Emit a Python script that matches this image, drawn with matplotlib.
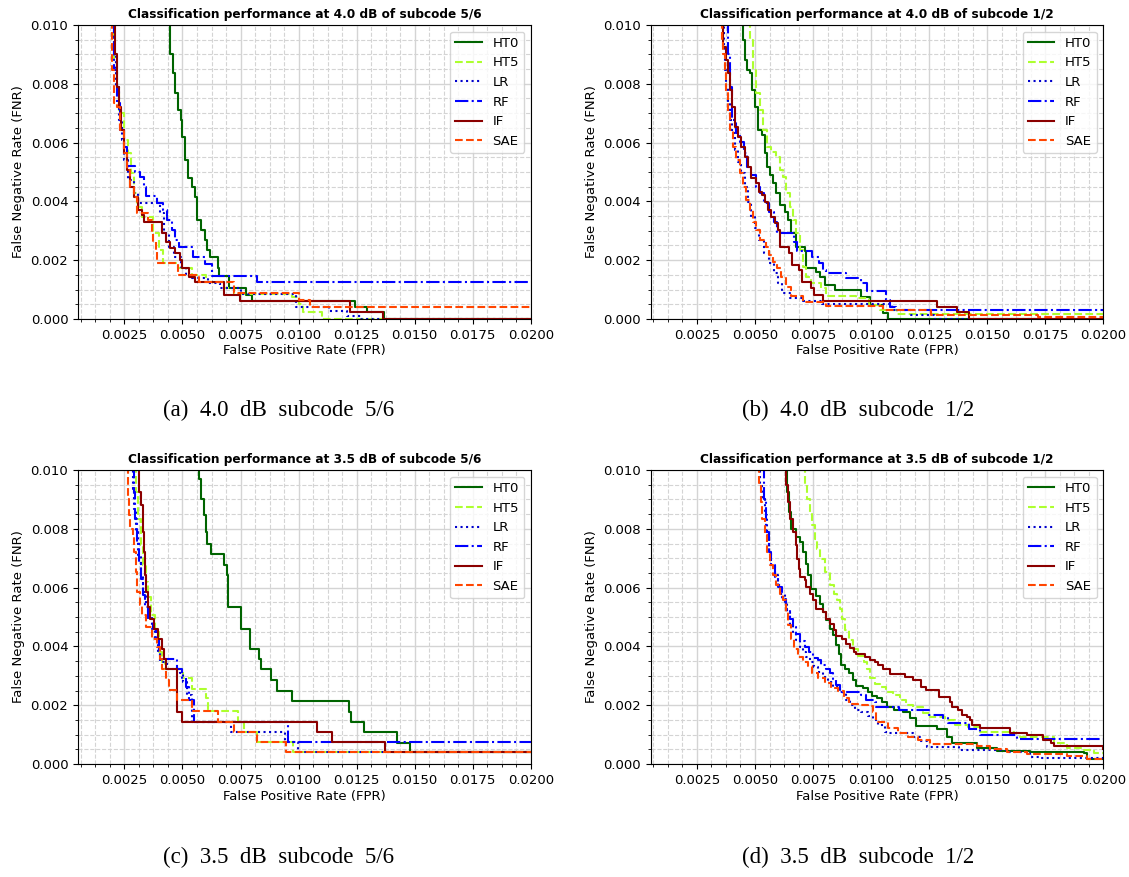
import matplotlib
matplotlib.use("Agg")
import matplotlib.pyplot as plt
from matplotlib.ticker import MultipleLocator, AutoMinorLocator

# ---------------- data (FPR, FNR) step vertices ----------------
LABELS = ["HT0", "HT5", "LR", "RF", "IF", "SAE"]
TITLES = ["Classification performance at 4.0 dB of subcode 5/6",
          "Classification performance at 4.0 dB of subcode 1/2",
          "Classification performance at 3.5 dB of subcode 5/6",
          "Classification performance at 3.5 dB of subcode 1/2"]
CAPTIONS = ["(a)  4.0  dB  subcode  5/6", "(b)  4.0  dB  subcode  1/2",
            "(c)  3.5  dB  subcode  5/6", "(d)  3.5  dB  subcode  1/2"]

# Panel (a)
A_HT0 = [(0.00437,0.0101),(0.00447,0.00903),(0.00457,0.00835),(0.00468,0.00767),(0.0048,0.0071),(0.00494,0.00676),(0.005,0.0062),(0.00509,0.0054),(0.00523,0.00478),(0.00543,0.0045),(0.00552,0.00416),(0.00562,0.00336),(0.00581,0.00302),(0.00598,0.00269),(0.00605,0.00235),(0.00619,0.0021),(0.00652,0.00172),(0.00658,0.00147),(0.00701,0.00104),(0.00773,0.00082),(0.00799,0.00062),(0.01245,0.0004),(0.01295,0.00023),(0.0137,0.0),(0.02,0.0)]
A_HT5 = [(0.00198,0.0101),(0.00207,0.0088),(0.00217,0.0079),(0.00227,0.00699),(0.00246,0.00608),(0.00267,0.00563),(0.00279,0.00495),(0.00293,0.00427),(0.00303,0.00382),(0.00325,0.00348),(0.00375,0.00291),(0.00397,0.00235),(0.00418,0.00189),(0.0048,0.00172),(0.0054,0.0015),(0.006,0.00125),(0.0068,0.00105),(0.0072,0.00085),(0.0097,0.00076),(0.01,0.00052),(0.0102,0.00023),(0.011,0.0),(0.02,0.0)]
A_LR = [(0.00193,0.0101),(0.00203,0.00903),(0.00213,0.0079),(0.00227,0.00676),(0.00239,0.00608),(0.0025,0.0054),(0.00267,0.00472),(0.00293,0.00427),(0.0031,0.00395),(0.00404,0.00359),(0.00422,0.00291),(0.00442,0.00246),(0.00462,0.00212),(0.00494,0.00178),(0.00514,0.0015),(0.0054,0.00138),(0.00612,0.00121),(0.0066,0.00105),(0.0075,0.00085),(0.0099,0.00042),(0.0113,0.00027),(0.0121,0.0001),(0.0127,0.0),(0.02,0.0)]
A_RF = [(0.00195,0.0101),(0.00207,0.00846),(0.00217,0.00733),(0.00231,0.00642),(0.00246,0.00586),(0.0026,0.0052),(0.00296,0.005),(0.00318,0.00484),(0.00336,0.0045),(0.00342,0.00418),(0.00389,0.00395),(0.00417,0.0037),(0.00432,0.00336),(0.00454,0.00302),(0.00468,0.00269),(0.00483,0.00246),(0.00547,0.0021),(0.00598,0.00187),(0.00626,0.00146),(0.0082,0.00125),(0.02,0.00125)]
A_IF = [(0.00203,0.0101),(0.0021,0.00903),(0.00217,0.0079),(0.00227,0.00722),(0.00236,0.00642),(0.00246,0.00563),(0.0026,0.00506),(0.00274,0.0045),(0.00289,0.00416),(0.0031,0.0037),(0.00325,0.00353),(0.00333,0.00331),(0.00411,0.00291),(0.00428,0.00263),(0.00447,0.0024),(0.00468,0.00223),(0.0049,0.002),(0.005,0.00172),(0.00529,0.00144),(0.00555,0.00127),(0.00677,0.00082),(0.00749,0.00062),(0.01223,0.00023),(0.01364,0.0),(0.02,0.0)]
A_SAE = [(0.00193,0.0101),(0.00198,0.00846),(0.00207,0.00733),(0.00217,0.00722),(0.00231,0.00642),(0.0025,0.00563),(0.0026,0.00506),(0.00274,0.0045),(0.00293,0.00416),(0.00303,0.00359),(0.00353,0.00336),(0.00368,0.00291),(0.00375,0.00263),(0.00385,0.00235),(0.0039,0.0019),(0.0048,0.0015),(0.0057,0.00125),(0.0072,0.00088),(0.01,0.00063),(0.0105,0.00042),(0.02,0.00042)]

# Panel (b)
B_HT0 = [(0.00434,0.0101),(0.00448,0.00948),(0.00455,0.0088),(0.00466,0.00846),(0.0048,0.00835),(0.00487,0.00778),(0.00499,0.00722),(0.00513,0.00642),(0.00532,0.00625),(0.00542,0.00563),(0.00552,0.00518),(0.00563,0.00489),(0.00578,0.00461),(0.00592,0.00427),(0.00606,0.00387),(0.00628,0.00365),(0.00642,0.00336),(0.00657,0.00291),(0.00678,0.00246),(0.00714,0.00232),(0.00721,0.00172),(0.00764,0.00161),(0.00779,0.00144),(0.008,0.00116),(0.00846,0.00099),(0.00958,0.00076),(0.00994,0.00048),(0.01052,0.00019),(0.01073,0.0),(0.02,0.0)]
B_HT5 = [(0.0047,0.0101),(0.00477,0.00948),(0.00491,0.00846),(0.00506,0.00767),(0.0052,0.0071),(0.00534,0.00642),(0.00552,0.00586),(0.0057,0.00569),(0.00589,0.00552),(0.00606,0.00506),(0.00621,0.00484),(0.00635,0.00427),(0.0065,0.00382),(0.00664,0.00336),(0.00678,0.00291),(0.00693,0.00235),(0.00707,0.00178),(0.00721,0.00144),(0.00743,0.00121),(0.00786,0.00104),(0.00807,0.00078),(0.00937,0.0007),(0.0099,0.00048),(0.0104,0.0003),(0.0111,0.00017),(0.02,0.00017)]
B_LR = [(0.00362,0.0101),(0.00365,0.00926),(0.00369,0.00846),(0.00376,0.0079),(0.00384,0.00733),(0.00391,0.00676),(0.00402,0.00631),(0.00412,0.00574),(0.00427,0.00535),(0.00441,0.00495),(0.00455,0.0045),(0.0047,0.00399),(0.00484,0.00348),(0.00499,0.00308),(0.00517,0.00269),(0.00537,0.00223),(0.0056,0.00189),(0.00581,0.00155),(0.00599,0.00121),(0.00618,0.00087),(0.0065,0.0007),(0.00707,0.00062),(0.0079,0.00052),(0.0109,0.0003),(0.0117,0.00015),(0.0127,0.0),(0.02,0.0)]
B_RF = [(0.00376,0.0101),(0.00384,0.00903),(0.00394,0.0079),(0.00402,0.00676),(0.0042,0.00631),(0.00437,0.00603),(0.00451,0.00563),(0.00466,0.00518),(0.00484,0.00489),(0.00506,0.0045),(0.00523,0.00427),(0.00537,0.00393),(0.0056,0.00365),(0.0058,0.00331),(0.00594,0.00291),(0.00667,0.00263),(0.00681,0.00232),(0.00747,0.00212),(0.00776,0.00189),(0.00793,0.00167),(0.00807,0.00155),(0.00894,0.00138),(0.00958,0.00121),(0.00983,0.00096),(0.01063,0.00065),(0.0108,0.00042),(0.01109,0.00031),(0.02,0.00031)]
B_IF = [(0.00355,0.0101),(0.00362,0.00926),(0.00374,0.0088),(0.00384,0.00835),(0.00394,0.00778),(0.00402,0.00722),(0.00412,0.00654),(0.00427,0.0062),(0.00441,0.00586),(0.00455,0.00552),(0.0047,0.00518),(0.00484,0.00478),(0.00506,0.00461),(0.00517,0.00433),(0.00532,0.00421),(0.00542,0.00399),(0.00556,0.0037),(0.0057,0.00348),(0.00585,0.00325),(0.00599,0.00302),(0.00606,0.00246),(0.00647,0.00223),(0.00661,0.00184),(0.0069,0.00167),(0.00701,0.00127),(0.00743,0.00104),(0.00753,0.00082),(0.00793,0.00062),(0.01282,0.00042),(0.01368,0.00022),(0.01422,0.0),(0.02,0.0)]
B_SAE = [(0.00355,0.0101),(0.00358,0.00948),(0.00362,0.00903),(0.00369,0.00835),(0.00376,0.00767),(0.00384,0.00699),(0.00394,0.00642),(0.00405,0.00586),(0.00417,0.0054),(0.00434,0.00495),(0.00448,0.0045),(0.00463,0.00404),(0.00477,0.0037),(0.00491,0.00331),(0.00506,0.00302),(0.00523,0.00269),(0.00546,0.00244),(0.0056,0.00218),(0.00578,0.00195),(0.00595,0.00172),(0.00614,0.00144),(0.00635,0.0011),(0.00657,0.00078),(0.00707,0.00059),(0.00807,0.00044),(0.01052,0.00031),(0.0126,0.00015),(0.0172,0.00008),(0.02,0.00008)]

# Panel (c)
C_HT0 = [(0.00555,0.0101),(0.00572,0.00971),(0.0058,0.00903),(0.00591,0.00846),(0.00601,0.0079),(0.00605,0.00747),(0.00624,0.00713),(0.00677,0.00676),(0.00691,0.00642),(0.00695,0.00535),(0.00751,0.00461),(0.00792,0.00393),(0.00828,0.00359),(0.00839,0.00325),(0.00882,0.00286),(0.00907,0.00248),(0.00971,0.00215),(0.01218,0.00178),(0.01227,0.00144),(0.0128,0.00108),(0.01424,0.00073),(0.01478,0.0004),(0.02,0.0004)]
C_HT5 = [(0.00289,0.0101),(0.00299,0.00926),(0.0031,0.00835),(0.0032,0.00744),(0.00332,0.00676),(0.00342,0.0062),(0.00353,0.00569),(0.00365,0.00506),(0.00382,0.0045),(0.00397,0.00382),(0.00411,0.00348),(0.00425,0.00323),(0.00504,0.00291),(0.0054,0.00255),(0.00601,0.00223),(0.00609,0.00181),(0.00741,0.00144),(0.00763,0.0011),(0.00823,0.00074),(0.00978,0.0004),(0.02,0.0004)]
C_LR = [(0.00279,0.0101),(0.00286,0.00937),(0.00293,0.00869),(0.003,0.0079),(0.0031,0.0071),(0.0032,0.00642),(0.00332,0.00586),(0.00342,0.0054),(0.00353,0.00501),(0.00368,0.00461),(0.00382,0.00427),(0.00394,0.00382),(0.00404,0.00348),(0.00432,0.00325),(0.0049,0.00308),(0.00504,0.0028),(0.00519,0.00235),(0.0054,0.00144),(0.0071,0.0011),(0.00943,0.00074),(0.00996,0.0004),(0.02,0.0004)]
C_RF = [(0.00282,0.0101),(0.0029,0.00926),(0.00297,0.00835),(0.00305,0.00756),(0.00312,0.00688),(0.0032,0.00631),(0.00329,0.00574),(0.00339,0.00535),(0.00353,0.00495),(0.00371,0.00461),(0.00385,0.00427),(0.00397,0.00387),(0.00404,0.00357),(0.00476,0.00323),(0.005,0.00291),(0.00514,0.00263),(0.00526,0.00218),(0.0055,0.00144),(0.00953,0.00074),(0.02,0.00074)]
C_IF = [(0.00307,0.0101),(0.00313,0.00926),(0.00322,0.0088),(0.00329,0.0079),(0.00335,0.00722),(0.00339,0.00642),(0.00343,0.00586),(0.00351,0.00535),(0.00361,0.00495),(0.00379,0.00461),(0.00394,0.00427),(0.00411,0.00393),(0.00421,0.00359),(0.00428,0.00323),(0.00476,0.00178),(0.005,0.00144),(0.01079,0.0011),(0.01144,0.00074),(0.01374,0.0004),(0.02,0.0004)]
C_SAE = [(0.0026,0.0101),(0.00264,0.00903),(0.0027,0.00846),(0.00274,0.00801),(0.00286,0.00778),(0.00292,0.00722),(0.00299,0.00654),(0.00306,0.00586),(0.00315,0.0054),(0.00325,0.00506),(0.00342,0.00467),(0.00368,0.00427),(0.00389,0.00399),(0.00404,0.00359),(0.00411,0.00325),(0.00428,0.00286),(0.0044,0.00252),(0.00476,0.00218),(0.0054,0.0018),(0.00655,0.00144),(0.0072,0.0011),(0.0082,0.00074),(0.00945,0.0004),(0.02,0.0004)]

# Panel (d)
D_HT0 = [(0.00632,0.0101),(0.00638,0.00926),(0.00647,0.00858),(0.00657,0.00801),(0.00675,0.00773),(0.00693,0.00756),(0.00707,0.00722),(0.00718,0.00682),(0.00728,0.00642),(0.00743,0.00597),(0.00762,0.00572),(0.00779,0.00546),(0.00793,0.00518),(0.00807,0.00489),(0.00822,0.00461),(0.00836,0.00438),(0.00851,0.00404),(0.00861,0.00376),(0.00872,0.00336),(0.00887,0.00323),(0.00905,0.00308),(0.0092,0.00286),(0.00934,0.00266),(0.00966,0.00259),(0.00987,0.00246),(0.01006,0.00232),(0.01026,0.00223),(0.01045,0.0021),(0.01069,0.00193),(0.01098,0.00184),(0.01138,0.00176),(0.01167,0.00155),(0.01195,0.0013),(0.01285,0.00118),(0.01325,0.00093),(0.01347,0.00073),(0.01455,0.00056),(0.01542,0.00045),(0.01686,0.00042),(0.01918,0.00036),(0.01932,0.00018),(0.02,0.00018)]
D_HT5 = [(0.00707,0.0101),(0.00714,0.00948),(0.00724,0.00903),(0.00736,0.00858),(0.00747,0.00812),(0.00757,0.00767),(0.00767,0.00733),(0.00782,0.00699),(0.008,0.00654),(0.00822,0.00608),(0.00839,0.0058),(0.00853,0.00557),(0.00865,0.00529),(0.00876,0.00495),(0.00889,0.00455),(0.00905,0.00421),(0.00922,0.00393),(0.00944,0.00368),(0.00968,0.00346),(0.00983,0.00323),(0.00997,0.00291),(0.01016,0.00271),(0.01037,0.00262),(0.01066,0.00245),(0.01095,0.00234),(0.01124,0.00218),(0.01152,0.002),(0.01181,0.00193),(0.01224,0.00172),(0.01253,0.00159),(0.01318,0.0015),(0.01361,0.00133),(0.01419,0.00127),(0.0147,0.0011),(0.01614,0.00104),(0.01643,0.00093),(0.01788,0.0007),(0.01845,0.00053),(0.01918,0.00048),(0.01961,0.00039),(0.02,0.00039)]
D_LR = [(0.00513,0.0101),(0.0052,0.00948),(0.00532,0.00903),(0.00542,0.00846),(0.00552,0.00778),(0.0056,0.00722),(0.0057,0.00676),(0.00585,0.00642),(0.00599,0.00608),(0.00614,0.0058),(0.00628,0.00552),(0.00638,0.00518),(0.0065,0.00472),(0.00664,0.00444),(0.00678,0.00421),(0.00693,0.00399),(0.00707,0.00382),(0.00721,0.00365),(0.00736,0.00348),(0.00753,0.00331),(0.00772,0.00314),(0.00793,0.00297),(0.00815,0.0028),(0.00836,0.00263),(0.00865,0.00246),(0.00894,0.00218),(0.00908,0.00201),(0.0093,0.00184),(0.00958,0.00176),(0.00987,0.00164),(0.01009,0.0015),(0.0103,0.00133),(0.01059,0.0011),(0.01072,0.00104),(0.0118,0.00093),(0.0121,0.0008),(0.0124,0.00059),(0.0138,0.00048),(0.0159,0.00042),(0.01686,0.00025),(0.0173,0.00019),(0.02,0.00019)]
D_RF = [(0.00532,0.0101),(0.00537,0.00903),(0.00549,0.0079),(0.0056,0.00722),(0.0057,0.00676),(0.00585,0.00637),(0.00599,0.00603),(0.00618,0.00563),(0.00635,0.00529),(0.0065,0.00495),(0.00664,0.00467),(0.00678,0.00444),(0.00695,0.00418),(0.00714,0.00399),(0.00733,0.0038),(0.0075,0.00361),(0.00772,0.00353),(0.00786,0.00336),(0.00805,0.00323),(0.00822,0.00308),(0.00836,0.00289),(0.00851,0.00269),(0.00865,0.00246),(0.00958,0.00235),(0.00977,0.00218),(0.01016,0.0021),(0.01023,0.00195),(0.0112,0.00184),(0.0125,0.00167),(0.0131,0.00155),(0.0133,0.00138),(0.0142,0.0012),(0.0147,0.001),(0.0163,0.00084),(0.02,0.00084)]
D_IF = [(0.00628,0.0101),(0.00635,0.00948),(0.00642,0.00892),(0.00652,0.00835),(0.00664,0.0079),(0.00675,0.00744),(0.00681,0.00699),(0.00688,0.00665),(0.00693,0.00637),(0.00714,0.00625),(0.00721,0.00603),(0.00739,0.0058),(0.0075,0.00557),(0.00762,0.00529),(0.00793,0.00518),(0.00807,0.00495),(0.00825,0.00478),(0.00839,0.00455),(0.00851,0.00436),(0.00876,0.00427),(0.00891,0.0041),(0.00908,0.00395),(0.00925,0.00382),(0.00937,0.00373),(0.00973,0.00365),(0.00994,0.00353),(0.01016,0.00346),(0.0103,0.00336),(0.01051,0.00325),(0.0108,0.00306),(0.01145,0.00295),(0.01181,0.00286),(0.01217,0.00263),(0.01238,0.00252),(0.01293,0.00229),(0.0134,0.00212),(0.01347,0.00195),(0.01376,0.00184),(0.0139,0.00167),(0.01415,0.00161),(0.01426,0.0015),(0.01434,0.00133),(0.0147,0.00121),(0.01597,0.00104),(0.01672,0.00099),(0.01741,0.00082),(0.01776,0.00073),(0.01788,0.00062),(0.0199,0.00062),(0.02,0.0005)]
D_SAE = [(0.0051,0.0101),(0.00517,0.00948),(0.00524,0.00892),(0.00532,0.00835),(0.00542,0.00778),(0.00552,0.00722),(0.00563,0.00676),(0.00578,0.00642),(0.00592,0.00608),(0.00606,0.0058),(0.00621,0.00557),(0.00632,0.00518),(0.00642,0.00472),(0.00654,0.00427),(0.00667,0.00393),(0.00685,0.00365),(0.00707,0.00346),(0.00728,0.00333),(0.00747,0.00308),(0.00772,0.00291),(0.008,0.00274),(0.00829,0.00259),(0.00858,0.00248),(0.00882,0.00223),(0.00905,0.00203),(0.00944,0.00201),(0.00987,0.00198),(0.01009,0.00178),(0.01023,0.00144),(0.01072,0.00121),(0.01116,0.00104),(0.01159,0.00093),(0.01202,0.00082),(0.01253,0.00068),(0.01455,0.00061),(0.01513,0.0005),(0.01585,0.00042),(0.01672,0.00034),(0.01845,0.00027),(0.01932,0.00016),(0.02,0.00014)]

PANELS = [
    [A_HT0, A_HT5, A_LR, A_RF, A_IF, A_SAE],
    [B_HT0, B_HT5, B_LR, B_RF, B_IF, B_SAE],
    [C_HT0, C_HT5, C_LR, C_RF, C_IF, C_SAE],
    [D_HT0, D_HT5, D_LR, D_RF, D_IF, D_SAE],
]

# ---------------- styles ----------------
COLORS = ["darkgreen", "greenyellow", "mediumblue", "blue", "darkred", "orangered"]
STYLES = ["-", "--", ":", "-.", "-", "--"]

fig = plt.figure(figsize=(11.29, 8.77), dpi=100)
W, H = 0.401, 0.3352
positions = [(0.0691, 0.6363), (0.5762, 0.6363), (0.0691, 0.1288), (0.5762, 0.1288)]
cap_pos = [(0.247, 0.532), (0.760, 0.532), (0.247, 0.022), (0.760, 0.022)]

for i, (series_list, (l, b)) in enumerate(zip(PANELS, positions)):
    ax = fig.add_axes([l, b, W, H])
    for pts, lab, c, ls in zip(series_list, LABELS, COLORS, STYLES):
        xs = [p[0] for p in pts]
        ys = [p[1] for p in pts]
        ax.plot(xs, ys, drawstyle="steps-post", color=c, linestyle=ls,
                linewidth=1.5, label=lab)
    ax.set_xlim(0.0005, 0.02)
    ax.set_ylim(0.0, 0.01)
    ax.xaxis.set_major_locator(MultipleLocator(0.0025))
    ax.xaxis.set_minor_locator(AutoMinorLocator(4))
    ax.yaxis.set_major_locator(MultipleLocator(0.002))
    ax.yaxis.set_minor_locator(AutoMinorLocator(4))
    ax.set_axisbelow(True)
    ax.grid(which="major", color="#d4d4d4", linestyle="-", linewidth=1.0)
    ax.grid(which="minor", color="#d4d4d4", linestyle="--", linewidth=0.8)
    ax.tick_params(labelsize=9.5)
    ax.set_xlabel("False Positive Rate (FPR)", fontsize=9.5, labelpad=2)
    ax.set_ylabel("False Negative Rate (FNR)", fontsize=9.5)
    ax.set_title(TITLES[i], fontsize=8.7, fontweight="bold", pad=5)
    ax.legend(loc="upper right", fontsize=9.5)
    fig.text(cap_pos[i][0], cap_pos[i][1], CAPTIONS[i], ha="center", va="center",
             family="Liberation Serif", fontsize=16.5)

fig.savefig("out.png", dpi=100)
